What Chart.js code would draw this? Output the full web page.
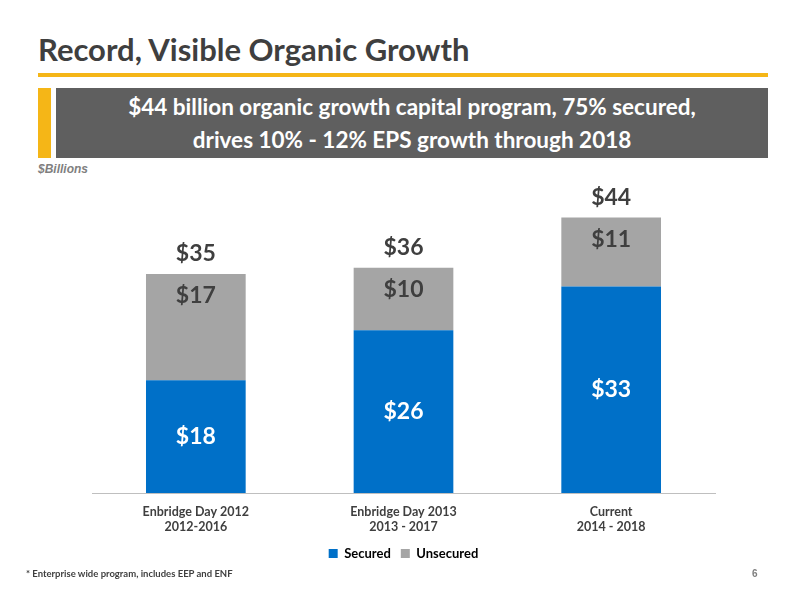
<!DOCTYPE html>
<html><head><meta charset="utf-8">
<script src="https://cdn.jsdelivr.net/npm/chart.js@4"></script>
<style>
  body { margin:0; width:800px; height:600px; background:#fff; position:relative; font-family:Lato, "Open Sans", sans-serif; overflow:hidden; }
  .title { position:absolute; left:38px; top:30px; font-size:31px; font-weight:bold; color:#3f3f3f; }
  .rule { position:absolute; left:38px; top:73px; width:730px; height:4px; background:#f5b617; }
  .accent { position:absolute; left:38px; top:88px; width:13px; height:70px; background:#f5b617; }
  .banner { position:absolute; left:56px; top:88px; width:712px; height:70px; background:#5f5f5f; color:#fff; font-weight:bold; font-size:22.5px; text-align:center; line-height:33px; padding-top:2px; box-sizing:border-box; }
  .unit { position:absolute; left:38px; top:162px; font-family:"Liberation Sans", Arial, sans-serif; font-style:italic; font-weight:bold; font-size:12px; color:#7f7f7f; }
  .foot { position:absolute; left:26px; top:568px; font-size:9.5px; font-weight:bold; color:#3f3f3f; }
  .page { position:absolute; left:752px; top:568px; font-family:"Liberation Sans", Arial, sans-serif; font-size:10px; font-weight:bold; color:#7f7f7f; }
  #wrap { position:absolute; left:80px; top:180px; width:647px; height:390px; }
</style></head>
<body>
<div class="title">Record, Visible Organic Growth</div>
<div class="rule"></div>
<div class="accent"></div>
<div class="banner">$44 billion organic growth capital program, 75% secured,<br>drives 10% - 12% EPS growth through 2018</div>
<div class="unit">$Billions</div>
<div id="wrap"><canvas id="chart"></canvas></div>
<div class="foot">* Enterprise wide program, includes EEP and ENF</div>
<div class="page">6</div>
<script>
const categories = [['Enbridge Day 2012', '2012-2016'], ['Enbridge Day 2013', '2013 - 2017'], ['Current', '2014 - 2018']];
const secured    = [18, 26, 33];
const unsecured  = [17, 10, 11];
const totals     = [35, 36, 44];

const labelPlugin = {
  id: 'labels',
  afterDatasetsDraw(chart) {
    const ctx = chart.ctx;
    ctx.save();
    ctx.textAlign = 'center';
    ctx.textBaseline = 'middle';
    ctx.font = 'bold 23px Lato, sans-serif';
    chart.data.datasets.forEach((ds, di) => {
      chart.getDatasetMeta(di).data.forEach((bar, i) => {
        ctx.fillStyle = '#fff';
        const mid = (bar.y + bar.base) / 2;
        const y = di === 0 ? mid : bar.y + 22;
        ctx.fillStyle = di === 0 ? '#ffffff' : '#3f3f3f';
        ctx.fillText('$' + ds.data[i], bar.x, y);
      });
    });
    const top = chart.getDatasetMeta(1).data;
    ctx.fillStyle = '#3f3f3f';
    top.forEach((bar, i) => ctx.fillText('$' + totals[i], bar.x, bar.y - 20));
    ctx.restore();
  }
};

new Chart(document.getElementById('chart'), {
  type: 'bar',
  data: {
    labels: categories,
    datasets: [
      { label: 'Secured',   data: secured,   backgroundColor: '#0070c8', categoryPercentage: 0.48, barPercentage: 1 },
      { label: 'Unsecured', data: unsecured, backgroundColor: '#a5a5a5', categoryPercentage: 0.48, barPercentage: 1 },
    ],
  },
  options: {
    animation: false,
    responsive: true,
    maintainAspectRatio: false,
    layout: { padding: { left: 12, right: 12 } },
    plugins: {
      legend: { position: 'bottom', labels: { color: '#000', boxWidth: 9, boxHeight: 9, font: { family: 'Lato', weight: 'bold', size: 13 } } },
      tooltip: { enabled: false },
    },
    scales: {
      x: { stacked: true, grid: { display: false }, border: { color: '#bfbfbf' },
           ticks: { color: '#3f3f3f', font: { family: 'Lato', weight: 'bold', size: 12.5 } } },
      y: { stacked: true, display: false, min: 0, max: 50 },
    },
  },
  plugins: [labelPlugin],
});
</script>
</body></html>
